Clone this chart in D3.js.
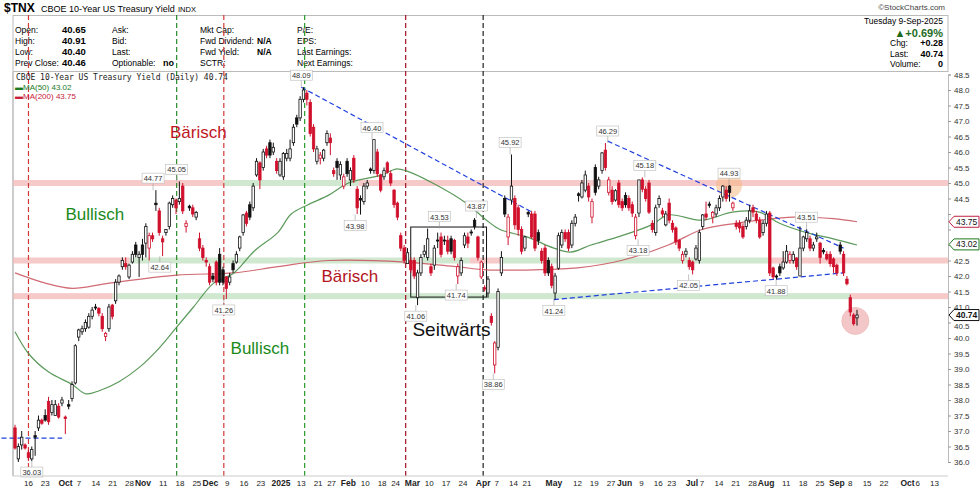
<!DOCTYPE html>
<html>
<head>
<meta charset="utf-8">
<script src="https://cdn.jsdelivr.net/npm/d3@7/dist/d3.min.js"></script>
<style>
  body { margin: 0; background: #fff; }
  svg { display: block; font-family: "Liberation Sans", Arial, sans-serif; }
</style>
</head>
<body>
<div id="chart"></div>
<script>
// ---- data ----
var opens = [37.1,36.1,36.55,36.55,36.3,36.1,36.85,37.1,37.35,37.5,37.95,37.6,37.5,37.8,37.9,37.45,37.85,38.05,38.55,
  40.03,40.2,40.3,40.35,40.7,41.0,40.95,40.7,40.05,40.3,41.06,41.2,41.8,42.3,42.4,41.97,42.45,43.0,42.6,43.0,43.06,42.9,43.3,
  44.35,44.1,43.2,43.4,43.6,44.3,44.45,44.4,44.9,43.6,44.25,44.2,43.9,43.2,42.9,42.5,42.3,42.0,42.45,42.7,42.2,41.97,41.8,
  42.4,42.45,42.9,43.4,44.03,44.3,44.2,45.26,45.65,45.5,46.1,46.3,46.0,45.7,45.26,45.2,45.8,45.8,46.3,47.1,47.1,47.7,47.9,
  47.6,46.8,45.7,45.8,45.8,46.3,46.45,45.4,45.7,45.26,44.9,45.7,45.1,45.8,44.8,44.5,44.4,44.9,45.45,45.4,46.0,45.26,45.2,
  45.65,45.3,44.77,44.35,43.3,42.9,42.4,42.5,42.5,41.3,42.1,42.7,42.6,42.3,42.35,43.16,43.26,43.16,43.15,43.2,43.15,42.0,
  42.1,43.0,43.26,43.42,43.8,43.26,41.97,41.62,41.45,40.7,39.13,39.7,42.1,44.5,43.26,44.45,44.5,44.2,43.5,42.9,44.05,44.0,
  44.0,43.4,42.8,42.9,42.5,42.3,41.45,42.25,43.0,43.4,43.4,43.0,43.7,44.65,44.55,44.77,44.9,43.9,45.5,44.9,45.4,46.06,44.7,
  44.77,44.45,45.0,44.4,44.6,44.5,44.3,43.3,44.03,45.1,44.8,45.0,43.7,43.4,44.3,44.1,43.65,44.35,43.7,43.55,43.15,42.5,42.7,
  42.5,42.45,42.55,42.5,43.6,44.0,44.32,43.9,44.0,44.2,44.55,44.77,44.9,44.2,43.7,43.7,43.6,43.6,43.8,44.2,44.0,43.8,43.4,
  43.7,44.03,42.26,42.0,42.3,42.26,42.45,42.5,42.5,42.58,42.0,42.9,43.2,43.2,42.9,43.2,43.06,42.82,42.7,42.7,42.55,42.35,
  43.0,42.7,41.9,41.3,40.74,40.65];
var highs = [37.2,36.6,37.0,36.6,36.4,36.5,37.0,37.5,37.4,37.7,38.1,38.0,38.0,37.9,38.1,37.5,38.0,38.6,39.8,
  40.3,40.4,40.6,40.8,41.0,41.1,41.0,40.8,40.2,41.1,41.1,41.9,42.05,42.6,42.6,42.4,42.8,43.1,42.8,43.2,43.7,43.4,43.4,
  44.77,44.2,43.3,43.5,44.4,44.6,44.5,45.05,45.0,43.8,44.3,44.3,44.1,43.4,43.0,42.6,42.4,42.1,42.5,42.9,42.3,42.0,42.1,
  42.5,42.8,43.3,44.0,44.1,44.4,45.0,45.8,45.7,46.1,46.2,46.4,46.3,45.8,45.8,46.0,46.1,46.4,46.9,47.2,47.8,48.09,48.0,
  47.7,46.9,46.2,46.0,46.1,46.7,46.6,45.5,45.8,45.7,45.3,45.8,45.5,45.9,44.9,44.6,45.0,45.1,45.5,46.4,46.1,45.3,45.5,
  45.7,45.4,44.8,44.4,43.4,43.0,42.9,42.6,42.6,42.2,42.7,43.0,43.53,42.4,43.0,43.4,43.4,43.3,43.3,43.3,43.2,42.4,
  42.6,43.4,43.4,43.5,43.87,43.3,42.5,41.7,42.0,40.8,39.9,41.6,42.8,44.6,44.0,45.92,44.6,44.3,43.6,43.3,44.1,44.1,
  44.1,43.5,42.9,43.0,42.6,42.4,42.1,43.4,43.5,43.5,43.5,43.8,44.0,44.7,45.1,45.4,45.0,44.5,45.6,45.2,46.0,46.29,45.2,
  44.9,44.8,45.1,44.5,44.7,44.6,44.4,44.0,45.1,45.18,44.9,45.1,43.8,44.3,44.6,44.2,44.1,44.5,43.8,43.6,43.2,42.8,42.9,
  42.6,42.5,43.0,43.5,44.0,44.4,44.4,44.1,44.3,44.6,44.93,44.9,44.93,44.4,43.8,43.8,43.7,43.9,44.3,44.3,44.1,43.9,43.8,
  44.1,44.1,42.3,42.05,42.4,42.8,43.0,42.8,42.8,42.6,43.6,43.3,43.51,43.3,43.1,43.4,43.1,42.9,42.8,42.8,42.6,42.4,
  43.1,42.8,42.0,41.4,40.8,40.91];
var lows = [36.4,36.0,36.4,36.4,36.03,36.03,36.2,37.0,37.2,37.3,37.2,37.5,37.5,37.4,37.8,36.9,37.7,37.95,38.5,
  39.9,40.1,40.2,40.3,40.6,40.9,40.7,40.2,39.9,40.2,40.6,41.1,41.7,42.2,42.2,41.9,42.4,42.6,41.97,42.5,42.6,42.5,43.1,
  44.1,43.3,42.64,43.3,43.5,44.2,44.0,44.3,44.0,43.4,44.1,43.9,43.8,42.8,42.5,42.3,41.7,41.8,41.7,41.7,41.7,41.26,41.7,
  42.1,42.4,42.8,43.3,43.6,43.8,44.1,45.2,44.8,45.4,45.8,45.8,45.9,45.3,45.2,45.1,45.7,45.7,46.2,46.8,47.0,47.6,47.5,
  46.5,46.0,45.6,45.6,45.7,46.2,45.9,45.2,45.1,45.1,44.8,45.2,44.9,45.0,44.0,43.98,44.3,44.8,45.3,45.3,45.2,44.7,45.1,
  45.3,44.9,44.2,43.8,42.8,42.4,42.6,42.1,41.9,41.06,42.0,42.6,42.5,42.0,42.2,42.9,42.6,43.0,42.7,42.7,42.5,41.74,
  42.0,42.9,42.9,43.3,43.5,42.5,41.9,41.5,41.3,40.4,38.86,39.6,42.0,43.9,43.0,44.3,43.5,43.3,42.7,42.8,43.9,43.2,
  42.8,43.0,42.4,42.0,42.0,41.6,41.24,42.2,42.9,43.1,42.8,42.9,43.6,44.4,44.5,44.7,44.4,43.7,44.6,44.8,45.3,45.4,44.6,
  44.3,44.4,44.2,44.1,44.2,44.1,43.9,43.18,43.9,44.7,44.4,44.0,43.4,43.3,44.2,43.9,43.6,43.7,43.4,43.0,42.8,42.4,42.6,
  42.2,42.05,42.5,42.4,43.5,43.8,44.2,43.7,43.9,44.1,44.4,44.4,44.4,44.1,43.5,43.4,43.2,43.5,43.7,43.9,43.7,43.2,43.3,
  43.6,42.0,41.9,41.88,42.0,42.2,42.4,42.4,42.4,42.2,42.0,42.8,43.1,42.8,42.8,43.1,42.4,42.7,42.5,42.3,42.1,42.0,
  42.7,42.0,41.7,40.7,40.4,40.40];
var closes = [36.45,36.5,36.8,36.45,36.15,36.4,36.8,37.35,37.25,37.35,37.3,37.85,37.85,37.45,38.0,37.4,37.8,38.5,39.75,
  40.26,40.3,40.5,40.7,40.9,40.98,40.8,40.3,40.15,41.0,40.7,41.8,42.0,42.5,42.3,42.35,42.7,42.7,42.7,42.7,43.6,43.3,43.2,
  44.3,43.4,43.1,43.5,44.35,44.5,44.2,44.5,44.1,43.7,44.2,44.0,44.05,42.9,42.6,42.45,41.8,41.9,41.8,41.8,41.8,41.6,41.97,
  42.2,42.7,43.26,43.97,43.7,43.9,44.9,45.7,45.1,46.0,45.9,45.9,46.15,45.4,45.7,45.95,45.95,46.1,46.8,46.9,47.7,48.0,47.7,
  46.6,46.1,46.1,45.9,46.06,46.6,46.3,45.3,45.5,45.6,45.2,45.3,45.4,45.1,44.2,44.45,44.9,45.0,45.4,46.4,45.3,44.77,45.4,
  45.35,45.0,44.3,43.9,42.9,42.5,42.75,42.2,42.0,42.1,42.6,42.8,43.2,42.1,42.9,43.14,42.7,43.14,42.8,42.8,42.6,42.3,
  42.5,43.3,43.06,43.4,43.6,42.6,42.45,41.58,41.9,40.5,39.84,41.5,42.6,44.0,43.9,44.9,43.65,43.5,42.8,43.26,44.0,43.26,
  42.9,43.15,42.5,42.1,42.1,41.7,42.0,43.3,43.4,43.2,42.9,43.7,43.9,44.6,45.0,45.26,44.55,44.4,44.7,45.1,45.97,45.5,45.1,
  44.4,44.75,44.3,44.2,44.3,44.2,44.03,43.9,45.1,44.8,44.5,44.06,43.5,44.2,44.5,44.0,44.0,43.8,43.5,43.1,42.9,42.7,42.8,
  42.3,42.2,42.9,43.4,43.97,43.9,44.28,44.05,44.2,44.5,44.9,44.5,44.7,44.35,43.6,43.55,43.26,43.8,44.1,44.06,43.8,43.26,43.7,
  44.0,42.1,41.97,41.97,42.1,42.45,42.8,42.7,42.7,42.3,42.9,43.26,43.4,42.9,43.0,43.26,42.6,42.78,42.55,42.4,42.3,42.1,
  42.8,42.1,41.75,40.84,40.46,40.74];

// moving averages: [trading day, value]
var ma50 = [[0,40.2],[4,39.5],[10,38.9],[17,38.5],[21,38.2],[25,38.3],[31,38.6],[37,39.06],[43,39.7],[48,40.35],[53,41.0],
  [59,41.77],[65,42.1],[71,42.8],[78,43.4],[82,44.0],[87,44.3],[93,44.6],[99,45.0],[109,45.26],[113,45.45],[116,45.4],
  [124,45.0],[134,44.35],[140,43.8],[144,43.5],[152,43.26],[160,42.9],[165,42.77],[171,43.0],[179,43.26],[189,43.65],
  [194,43.97],[204,43.8],[213,44.06],[221,44.06],[227,43.7],[235,43.4],[243,43.2],[250,43.0]];
var ma200 = [[0,42.1],[9,41.77],[17,41.6],[28,41.77],[48,42.03],[65,42.1],[78,42.3],[93,42.5],[116,42.45],[131,42.3],
  [140,42.2],[154,42.2],[167,42.26],[180,42.5],[194,43.0],[204,43.5],[214,43.7],[221,43.8],[231,43.9],[243,43.85],[250,43.75]];

var holidays = ["2024-11-28","2024-12-25","2025-01-01","2025-01-09","2025-01-20","2025-02-17","2025-04-18","2025-05-26","2025-06-19","2025-07-04","2025-09-01"];
var tickDates = ["2024-09-16","2024-09-23","2024-10-01","2024-10-07","2024-10-14","2024-10-21","2024-10-28","2024-11-01","2024-11-11","2024-11-18","2024-11-25","2024-12-02","2024-12-09","2024-12-16","2024-12-23","2025-01-02","2025-01-13","2025-01-21","2025-01-27","2025-02-03","2025-02-10","2025-02-18","2025-02-24","2025-03-03","2025-03-10","2025-03-17","2025-03-24","2025-04-01","2025-04-07","2025-04-14","2025-04-21","2025-05-01","2025-05-12","2025-05-19","2025-05-27","2025-06-02","2025-06-09","2025-06-16","2025-06-23","2025-07-01","2025-07-07","2025-07-14","2025-07-21","2025-07-28","2025-08-01","2025-08-11","2025-08-18","2025-08-25","2025-09-02","2025-09-08","2025-09-15","2025-09-22","2025-10-01","2025-10-06","2025-10-13"];
var tickLabels = ["16","23","Oct","7","14","21","28","Nov","11","18","25","Dec","9","16","23","2025","13","21","27","Feb","10","18","24","Mar","10","17","24","Apr","7","14","21","May","12","19","27","Jun","9","16","23","Jul","7","14","21","28","Aug","11","18","25","Sep","8","15","22","Oct","6","13"];

var yTicks = d3.range(36, 48.51, 0.5);
// vertical signal lines: [trading day, colour]
var vLines = [[4,"#d43a3a"],[48,"#2a8a2a"],[62,"#d43a3a"],[86,"#2a9a2a"],[116,"#a01020"],[139,"#222"]];
// support / resistance bands: [value, from day, to day, kind]
var bands = [[45.0,-1,62,"r"],[45.0,62,102,"g"],[45.0,102,278,"r"],
  [42.5,-1,34,"r"],[42.5,34,135,"g"],[42.5,135,144,"r"],[42.5,144,224,"g"],[42.5,224,278,"r"],
  [41.35,-1,29,"r"],[41.35,29,248,"g"],[41.35,248,278,"r"]];
// trend lines: [day1, v1, day2, v2]
var trends = [[85,48.09,154,44.03],[176,46.35,246,42.9],[160,41.24,246,42.1],[-4,36.77,14,36.77]];
// peak/trough labels: [day, value, above?]
var peaks = [[5,36.03,0],[41,44.77,1],[48,45.05,1],[43,42.64,0],[62,41.26,0],[85,48.09,1],[106,46.40,1],[101,43.98,0],
  [126,43.53,1],[137,43.87,1],[131,41.74,0],[119,41.06,0],[147,45.92,1],[142,38.86,0],[160,41.24,0],[176,46.29,1],
  [187,45.18,1],[212,44.93,1],[185,43.18,0],[200,42.05,0],[226,41.88,0],[235,43.51,1]];
var notes = [["Bärisch",46,46.45,"#c0161e",17],["Bullisch",15,43.8,"#1a8a1a",17],["Bullisch",64,39.5,"#1a8a1a",17],
  ["Bärisch",91,41.8,"#b3141c",17],["Seitwärts",118,40.05,"#111",19]];

// ---- layout ----
var W = 980, H = 489;
var L = 13, R = 948, T = 72, B = 476;
var svg = d3.select("#chart").append("svg").attr("width", W).attr("height", H);

var y = d3.scaleLinear().domain([36, 48.5]).range([462, 74.5]);
var xd = d3.scaleLinear().domain([0, 250]).range([15, 857]);
var xc = d3.scaleLinear().domain([0, closes.length - 1]).range([15, 857]);

// trading calendar for the date ticks
var hol = new Set(holidays);
var cal = d3.timeDay.range(new Date(2024, 8, 10), new Date(2025, 9, 16))
  .filter(function (d) { var w = d.getDay(); return w > 0 && w < 6 && !hol.has(d3.timeFormat("%Y-%m-%d")(d)); })
  .map(function (d) { return d3.timeFormat("%Y-%m-%d")(d); });

// header
svg.append("text").attr("x", 4).attr("y", 12).attr("font-size", 12).attr("font-weight", "bold").text("$TNX");
svg.append("text").attr("x", 41).attr("y", 12).attr("font-size", 9).text("CBOE 10-Year US Treasury Yield");
svg.append("text").attr("x", 178).attr("y", 12).attr("font-size", 7.5).text("INDX");
svg.append("text").attr("x", 945).attr("y", 10).attr("font-size", 8).attr("text-anchor", "end").attr("fill", "#444").text("©StockCharts.com");
svg.append("rect").attr("x", L).attr("y", 15.5).attr("width", R - L).attr("height", 56).attr("fill", "none").attr("stroke", "#bbb");
svg.append("line").attr("x1", L).attr("x2", L).attr("y1", T).attr("y2", B).attr("stroke", "#ccc").attr("stroke-width", 2);

var info = [["Open:", "40.65", 15, 62], ["High:", "40.91", 15, 62], ["Low:", "40.40", 15, 62], ["Prev Close:", "40.46", 15, 62]];
var rowsY = [33, 44, 55, 66];
info.forEach(function (r, i) {
  svg.append("text").attr("x", r[2]).attr("y", rowsY[i]).attr("font-size", 8.5).text(r[0]);
  svg.append("text").attr("x", r[3]).attr("y", rowsY[i]).attr("font-size", 9.5).attr("font-weight", "bold").text(r[1]);
});
["Ask:", "Bid:", "Last:", "Optionable:"].forEach(function (t, i) {
  svg.append("text").attr("x", 112).attr("y", rowsY[i]).attr("font-size", 8.5).text(t);
});
svg.append("text").attr("x", 163).attr("y", 66).attr("font-size", 9).attr("font-weight", "bold").text("no");
["Mkt Cap:", "Fwd Dividend:", "Fwd Yield:", "SCTR:"].forEach(function (t, i) {
  svg.append("text").attr("x", 200).attr("y", rowsY[i]).attr("font-size", 8.5).text(t);
});
svg.append("text").attr("x", 257).attr("y", 44).attr("font-size", 8.5).attr("font-weight", "bold").text("N/A");
svg.append("text").attr("x", 257).attr("y", 55).attr("font-size", 8.5).attr("font-weight", "bold").text("N/A");
["P/E:", "EPS:", "Last Earnings:", "Next Earnings:"].forEach(function (t, i) {
  svg.append("text").attr("x", 297).attr("y", rowsY[i]).attr("font-size", 8.5).text(t);
});
svg.append("text").attr("x", 943).attr("y", 24).attr("font-size", 8.5).attr("text-anchor", "end").text("Tuesday  9-Sep-2025");
svg.append("text").attr("x", 943).attr("y", 37).attr("font-size", 11).attr("text-anchor", "end").attr("fill", "#1d6b1d").attr("font-weight", "bold").text("▲+0.69%");
[["Chg:", "+0.28", 46], ["Last:", "40.74", 57], ["Volume:", "0", 67]].forEach(function (r) {
  svg.append("text").attr("x", 890).attr("y", r[2]).attr("font-size", 8.5).text(r[0]);
  svg.append("text").attr("x", 943).attr("y", r[2]).attr("font-size", 9).attr("font-weight", "bold").attr("text-anchor", "end").text(r[1]);
});

// bands
bands.forEach(function (b) {
  svg.append("rect").attr("x", Math.max(L, xd(b[1]))).attr("y", y(b[0]) - 3)
    .attr("width", Math.min(R, xd(b[2])) - Math.max(L, xd(b[1]))).attr("height", 6)
    .attr("fill", b[3] === "r" ? "#f4b8b8" : "#bfe0bf").attr("opacity", 0.75);
});

// highlight circles
svg.append("circle").attr("cx", xd(212)).attr("cy", y(44.93)).attr("r", 13).attr("fill", "#f6b27a").attr("opacity", 0.5);
svg.append("circle").attr("cx", xd(249.5)).attr("cy", y(40.55)).attr("r", 13.5).attr("fill", "#e89090").attr("opacity", 0.5).attr("stroke", "#d77").attr("stroke-width", 0.8);

// vertical dashed lines
vLines.forEach(function (v) {
  svg.append("line").attr("x1", xd(v[0])).attr("x2", xd(v[0])).attr("y1", 15).attr("y2", B)
    .attr("stroke", v[1]).attr("stroke-width", 1.2).attr("stroke-dasharray", "5,3");
});

// sideways box
svg.append("rect").attr("x", xd(117.5)).attr("y", y(43.58)).attr("width", xd(140) - xd(117.5)).attr("height", y(41.32) - y(43.58))
  .attr("fill", "none").attr("stroke", "#111").attr("stroke-width", 1);

// moving averages
var line = d3.line().x(function (d) { return xd(d[0]); }).y(function (d) { return y(d[1]); }).curve(d3.curveCatmullRom);
svg.append("path").attr("d", line(ma200)).attr("fill", "none").attr("stroke", "#c8505a").attr("stroke-width", 1.2).attr("opacity", 0.85);
svg.append("path").attr("d", line(ma50)).attr("fill", "none").attr("stroke", "#4a8f4a").attr("stroke-width", 1.2).attr("opacity", 0.9);

// trend lines
trends.forEach(function (t) {
  svg.append("line").attr("x1", Math.max(0, xd(t[0]))).attr("y1", y(t[1])).attr("x2", xd(t[2])).attr("y2", y(t[3]))
    .attr("stroke", "#2040e0").attr("stroke-width", 1.2).attr("stroke-dasharray", "5,3");
});

// candles
var cw = 2.4;
closes.forEach(function (c, i) {
  var o = opens[i], prev = i ? closes[i - 1] : o;
  var col = c < prev ? "#d0102c" : "#111";
  var hollow = c >= o;
  var cx = xc(i);
  svg.append("line").attr("x1", cx).attr("x2", cx).attr("y1", y(highs[i])).attr("y2", y(lows[i])).attr("stroke", col).attr("stroke-width", 1);
  var top = y(Math.max(o, c)), bot = y(Math.min(o, c));
  svg.append("rect").attr("x", cx - cw / 2).attr("y", top).attr("width", cw).attr("height", Math.max(1, bot - top))
    .attr("fill", hollow ? "#fff" : col).attr("stroke", col).attr("stroke-width", 0.8);
});

// peak labels
peaks.forEach(function (p) {
  var px = xd(p[0]), py = y(p[1]);
  var ty = p[2] ? py - 9 : py + 14;
  var g = svg.append("g");
  g.append("line").attr("x1", px).attr("x2", px).attr("y1", py).attr("y2", p[2] ? ty + 2 : ty - 8).attr("stroke", "#999").attr("stroke-width", 0.6);
  g.append("rect").attr("x", px - 11).attr("y", ty - 8).attr("width", 22).attr("height", 10).attr("fill", "#fff").attr("stroke", "#bbb").attr("stroke-width", 0.6);
  g.append("text").attr("x", px).attr("y", ty).attr("font-size", 7.5).attr("text-anchor", "middle").attr("fill", "#333").text(p[1].toFixed(2));
});

// notes
notes.forEach(function (n) {
  svg.append("text").attr("x", xd(n[1])).attr("y", y(n[2])).attr("font-size", n[4]).attr("fill", n[3]).text(n[0]);
});

// legend
svg.append("text").attr("x", 16).attr("y", 80).attr("font-size", 8).attr("font-family", "DejaVu Sans Mono, monospace").attr("fill", "#222")
  .text("CBOE 10-Year US Treasury Yield (Daily) 40.74");
svg.append("text").attr("x", 15).attr("y", 90).attr("font-size", 8).attr("fill", "#1d7a1d").text("▬MA(50) 43.02");
svg.append("text").attr("x", 15).attr("y", 99).attr("font-size", 8).attr("fill", "#c8203a").text("▬MA(200) 43.75");

// right axis
var ax = svg.append("g").attr("transform", "translate(" + R + ",0)")
  .call(d3.axisRight(y).tickValues(yTicks).tickFormat(d3.format(".1f")).tickSize(3));
ax.select(".domain").attr("stroke", "#bbb");
ax.selectAll("text").attr("font-size", 8).attr("fill", "#333").attr("font-family", "Liberation Sans, Arial");
ax.selectAll("line").attr("stroke", "#999");
// shift tick labels that sit under the value tags
ax.selectAll(".tick").filter(function (d) { return d === 43.5 || d === 44.0 || d === 43.0; }).select("text").attr("opacity", 0);
ax.selectAll(".tick").filter(function (d) { return d === 40.5; }).select("text").attr("dy", "0.75em");

// value tags
[[43.75, "#c02040", "43.75", false], [43.02, "#1d7a1d", "43.02", false], [40.74, "#111", "40.74", true]].forEach(function (t) {
  var ty = y(t[0]);
  svg.append("path").attr("d", "M" + (R + 1) + "," + ty + " l5,-5.5 h25 v11 h-25 z").attr("fill", "#fff").attr("stroke", t[1]).attr("stroke-width", 1);
  svg.append("text").attr("x", R + 8).attr("y", ty + 3).attr("font-size", 8.5).attr("font-weight", t[3] ? "bold" : "normal").attr("fill", "#111").text(t[2]);
});

// bottom axis
svg.append("line").attr("x1", L).attr("x2", R).attr("y1", B).attr("y2", B).attr("stroke", "#ccc");
tickDates.forEach(function (d, i) {
  var k = cal.indexOf(d);
  if (k < 0) return;
  var bold = isNaN(+tickLabels[i]) || tickLabels[i] === "2025";
  svg.append("text").attr("x", xd(k)).attr("y", 486).attr("font-size", bold ? 8.5 : 8).attr("font-weight", bold ? "bold" : "normal")
    .attr("text-anchor", "middle").attr("fill", "#222").text(tickLabels[i]);
});
</script>
</body>
</html>
